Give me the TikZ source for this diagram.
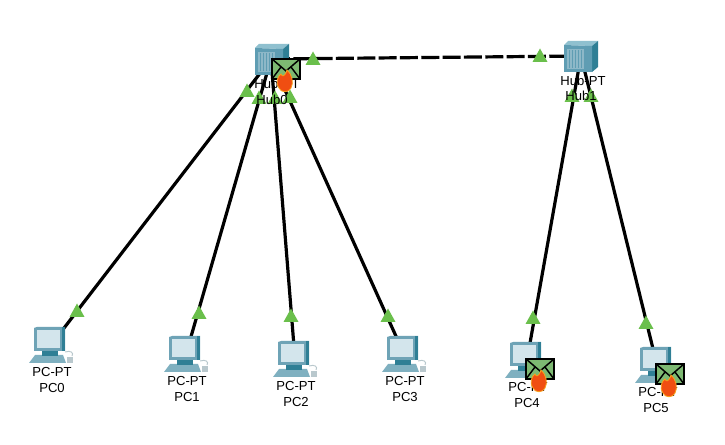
\documentclass[tikz,border=0pt]{standalone}
\usepackage{fontspec}
\setmainfont{Liberation Sans}
\definecolor{hubfront}{HTML}{5F9DB3}
\definecolor{hubtop}{HTML}{8FC0CF}
\definecolor{hubside}{HTML}{2F7F95}
\definecolor{grill}{HTML}{8DB8C8}
\definecolor{screenc}{HTML}{D3E5EC}
\definecolor{pcbody}{HTML}{6EA3B6}
\definecolor{pcbase}{HTML}{7FB0C0}
\definecolor{mousec}{HTML}{B9C8CD}
\definecolor{linkgreen}{HTML}{6ABF4B}
\definecolor{envgreen}{HTML}{7DB972}
\definecolor{flameo}{HTML}{F04E12}
\definecolor{flamey}{HTML}{F9A11B}
\tikzset{
  x=0.75pt,y=-0.75pt,
  anchorpt/.style={inner sep=0pt,minimum size=1pt},
  linkline/.style={line width=2.4pt,black},
  lbl/.style={inner sep=0pt,font=\fontsize{9.8}{11}\selectfont,align=center,text=black},
  pics/pcicon/.style={code={
    \draw[mousec,line width=0.7pt] (36,25) .. controls (42,23) and (45,26) .. (43,29);
    \fill[mousec] (38,30) rectangle (44,36);
    \fill[pcbase] (6,28) -- (34,28) -- (37,36) -- (0,36) -- cycle;
    \fill[hubside] (13,22) rectangle (29,29);
    \fill[pcbody] (5,1) -- (8,0) -- (36,0) -- (36,24) -- (5,24) -- cycle;
    \fill[hubside] (33,0) -- (36,0) -- (36,24) -- (33,24) -- cycle;
    \fill[screenc] (8,3) rectangle (31,21);
  }},
  pics/hubicon/.style={code={
    \fill[hubtop] (0,4) -- (4,0) -- (34,0) -- (28,5) -- cycle;
    \fill[hubside] (28,5) -- (34,0) -- (34,26) -- (28,31) -- cycle;
    \fill[hubfront] (0,4) -- (28,5) -- (28,31) -- (0,31) -- cycle;
    \fill[grill] (3,8) rectangle (20,28);
    \foreach \s in {5,8,11,14,17} {\draw[hubfront,line width=0.6pt] (\s,9) -- (\s,27);}
  }},
  pics/tri/.style={code={
    \fill[linkgreen] (-7.5,6) -- (0,-7.5) -- (7.5,6) -- cycle;
  }},
  pics/mailfire/.style={code={
    \fill[envgreen,draw=black,line width=1.5pt] (0,0) rectangle (28,20);
    \draw[black,line width=1.1pt] (0,0) -- (14,12) -- (28,0) (0,20) -- (9,8) (28,20) -- (19,8);
    \fill[flameo,draw=flamey,line width=0.6pt] (7,29) .. controls (3,23) and (6,17) .. (9,15)
      .. controls (10,18) and (13,18) .. (15,11) .. controls (20,15) and (22,24) .. (19,29)
      .. controls (17,34) and (9,34) .. (7,29) -- cycle;
  }}
}
\begin{document}
\begin{tikzpicture}
\useasboundingbox (0,0) rectangle (725,445);
\fill[white] (0,0) rectangle (725,445);
% anchors
\node[anchorpt] (hub0) at (271,59) {};
\node[anchorpt] (hub1) at (581,56) {};
\node[anchorpt] (pc0) at (51,345) {};
\node[anchorpt] (pc1) at (186,354) {};
\node[anchorpt] (pc2) at (295,359) {};
\node[anchorpt] (pc3) at (404,354) {};
\node[anchorpt] (pc4) at (527,360) {};
\node[anchorpt] (pc5) at (657,365) {};
% links
\draw[linkline] (hub0) -- (pc0);
\draw[linkline] (hub0) -- (pc1);
\draw[linkline] (hub0) -- (pc2);
\draw[linkline] (hub0) -- (pc3);
\draw[linkline] (hub1) -- (pc4);
\draw[linkline] (hub1) -- (pc5);
\draw[linkline,dash pattern=on 13.5pt off 2.5pt] (hub0) -- (hub1);
% icons
\pic at (255,44) {hubicon};
\pic at (564,41) {hubicon};
\pic at (29,327) {pcicon};
\pic at (164,336) {pcicon};
\pic at (273,341) {pcicon};
\pic at (382,336) {pcicon};
\pic at (505,342) {pcicon};
\pic at (635,347) {pcicon};
% link lights
\foreach \p in {(313,59),(540,56),(247,91),(259,98),(275,98),(290,97),(572,96),(591,96),(77,311),(199,313),(291,316),(388,316),(533,318),(646,323)}
  {\pic at \p {tri};}
% labels
\node[lbl] (hub0type) at (277,84) {Hub-PT};
\node[lbl] (hub0name) at (272,100) {Hub0};
\node[lbl] (hub1type) at (583,81) {Hub-PT};
\node[lbl] (hub1name) at (581,96) {Hub1};
\node[lbl] (pc0type) at (52,372) {PC-PT};
\node[lbl] (pc0name) at (52,388) {PC0};
\node[lbl] (pc1type) at (187,381) {PC-PT};
\node[lbl] (pc1name) at (187,397) {PC1};
\node[lbl] (pc2type) at (296,386) {PC-PT};
\node[lbl] (pc2name) at (296,402) {PC2};
\node[lbl] (pc3type) at (405,381) {PC-PT};
\node[lbl] (pc3name) at (405,397) {PC3};
\node[lbl] (pc4type) at (528,387) {PC-PT};
\node[lbl] (pc4name) at (527,403) {PC4};
\node[lbl] (pc5type) at (658,392) {PC-PT};
\node[lbl] (pc5name) at (656,408) {PC5};
% envelopes
\pic at (272,59) {mailfire};
\pic at (526,359) {mailfire};
\pic at (656,364) {mailfire};
\end{tikzpicture}
\end{document}
